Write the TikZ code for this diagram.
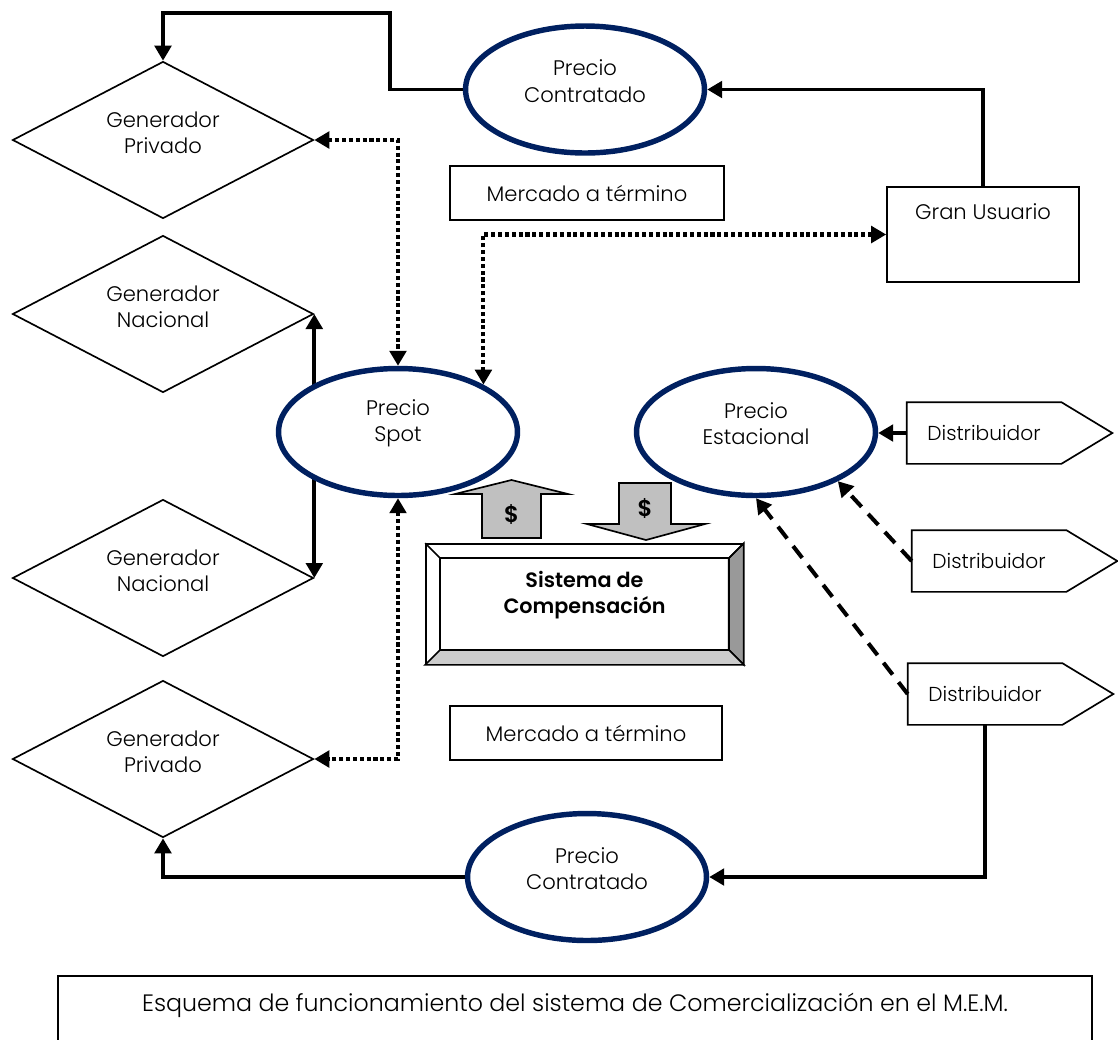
\documentclass[tikz,border=0pt]{standalone}
\usepackage{fontspec}
\IfFontExistsTF{Poppins Light}
  {\setmainfont{Poppins}[UprightFont=* Light, BoldFont=* SemiBold]}
  {\setmainfont{Poppins}}
\usetikzlibrary{shapes.geometric,arrows.meta,calc,backgrounds}
\definecolor{navy}{RGB}{0,32,96}
\definecolor{bevdark}{RGB}{153,153,153}
\definecolor{bevlight}{RGB}{204,204,204}
\definecolor{arrfill}{RGB}{192,192,192}

\begin{document}
\begin{tikzpicture}[x=0.02cm,y=-0.02cm,
  font=\fontsize{12}{15}\selectfont,
  tip/.tip={Triangle[length=0.3cm,width=0.33cm]},
  gen/.style={diamond, draw, line width=0.95pt, inner sep=0pt,
    minimum width=6.02cm, minimum height=3.14cm,
    label={[align=center, inner sep=0pt, yshift=0.14cm]center:#1}},
  price/.style={ellipse, draw=navy, line width=3.1pt, fill=white, inner sep=0pt,
    minimum width=4.78cm, minimum height=2.54cm,
    label={[align=center, inner sep=0pt, yshift=0.17cm]center:#1}},
  box/.style={draw, line width=0.95pt, inner sep=0pt, align=center},
  body/.style={inner sep=0pt, minimum width=3.08cm, minimum height=1.22cm,
    font=\fontsize{11.5}{14}\selectfont},
  conn/.style={line width=2.2pt, -tip},
  dotc/.style={line width=2.3pt, dash pattern=on 2.3pt off 1.6pt, tip-tip},
  dashc/.style={line width=2.3pt, dash pattern=on 8.5pt off 5.5pt, -tip},
  money/.style={draw, line width=0.95pt, fill=arrfill},
]
\useasboundingbox (0,0) rectangle (1118,1039);

% generators
\node[gen={Generador\\Privado}] (gp1) at (163,140) {};
\node[gen={Generador\\Nacional}] (gn1) at (163,314) {};
\node[gen={Generador\\Nacional}] (gn2) at (163,578) {};
\node[gen={Generador\\Privado}] (gp2) at (163,759) {};

% prices
\node[price={Precio\\Contratado}] (c1) at (585,89.5) {};
\node[price={Precio\\Spot}] (spot) at (398,432) {};
\node[price={Precio\\Estacional}] (est) at (756,432) {};
\node[price={Precio\\Contratado}] (c2) at (587,877) {};

% boxes
\node[box, minimum width=5.48cm, minimum height=1.08cm] (mt1) at (587,193) {Mercado a término};
\node[box, minimum width=5.44cm, minimum height=1.08cm] (mt2) at (586,733) {Mercado a término};
\node[box, minimum width=3.84cm, minimum height=1.9cm,
  label={[anchor=center, yshift=-0.5cm, inner sep=0pt]north:Gran Usuario}] (gu) at (983,234.5) {};

% distributors
\node[body] (da) at (984,433) {Distribuidor};
\node[body] (db) at (989,561) {Distribuidor};
\node[body] (dc) at (985,694) {Distribuidor};
\foreach \d in {da,db,dc}{
  \draw[line width=0.95pt] (\d.north west) -- (\d.north east) -- ($(\d.east)+(51,0)$)
    -- (\d.south east) -- (\d.south west) -- cycle;
}

% compensation system with bevelled frame
\node[draw, line width=0.95pt, minimum width=6.34cm, minimum height=2.4cm, inner sep=0pt] (sc) at (584.5,604) {};
\coordinate (iNW) at ($(sc.north west)+(15,15)$);
\coordinate (iNE) at ($(sc.north east)+(-15,15)$);
\coordinate (iSW) at ($(sc.south west)+(15,-15)$);
\coordinate (iSE) at ($(sc.south east)+(-15,-15)$);
\draw[line width=0.95pt, fill=bevdark] (sc.north east) -- (sc.south east) -- (iSE) -- (iNE) -- cycle;
\draw[line width=0.95pt, fill=bevlight] (sc.south west) -- (sc.south east) -- (iSE) -- (iSW) -- cycle;
\draw[line width=0.95pt] (sc.north west) -- (iNW) (sc.north east) -- (iNE);
\draw[line width=1.3pt] (iNW) rectangle (iSE);
\node[font=\fontsize{11.8}{14.5}\selectfont\bfseries, align=center] (sctext) at ($(sc.center)+(0,-9)$) {Sistema de\\Compensación};

% money arrows
\draw[money] (482,538) -- (482,494) -- (455,494) -- (511.5,480) -- (568,494) -- (541,494) -- (541,538) -- cycle;
\node[font=\fontsize{13}{15}\selectfont\bfseries] (up) at (511.5,514) {\$};
\draw[money] (619,483) -- (671,483) -- (671,524) -- (705,524) -- (646,540) -- (587,524) -- (619,524) -- cycle;
\node[font=\fontsize{13}{15}\selectfont\bfseries] (down) at (645,508) {\$};

% caption
\node[draw, line width=0.95pt, anchor=north, minimum width=20.68cm, minimum height=1.8cm,
  label={[anchor=center, yshift=-0.6cm, inner sep=0pt, font=\fontsize{13.5}{16}\selectfont]north:Esquema de funcionamiento del sistema de Comercialización en el M.E.M.}]
  (cap) at (575,975) {};

% connectors
\begin{scope}[on background layer]
\draw[conn, tip-tip] (gn1.east) -- (gn2.east);
\end{scope}
\draw[conn] (c1.west) -| (390,13) -| (gp1.north);
\draw[conn] (gu.north) |- (c1.east);
\draw[dotc] (gp1.east) -| (spot.north);
\draw[dotc] (spot.29) |- (gu.west);
\draw[dotc] (spot.south) |- (gp2.east);
\draw[conn] (da.west) -- (da.west -| est.east);
\draw[dashc] (db.west) -- (est.-31);
\draw[dashc] (dc.west) -- (est.south);
\draw[conn] (dc.south) |- (c2.east);
\draw[conn] (c2.west) -| (gp2.south);
\end{tikzpicture}
\end{document}
